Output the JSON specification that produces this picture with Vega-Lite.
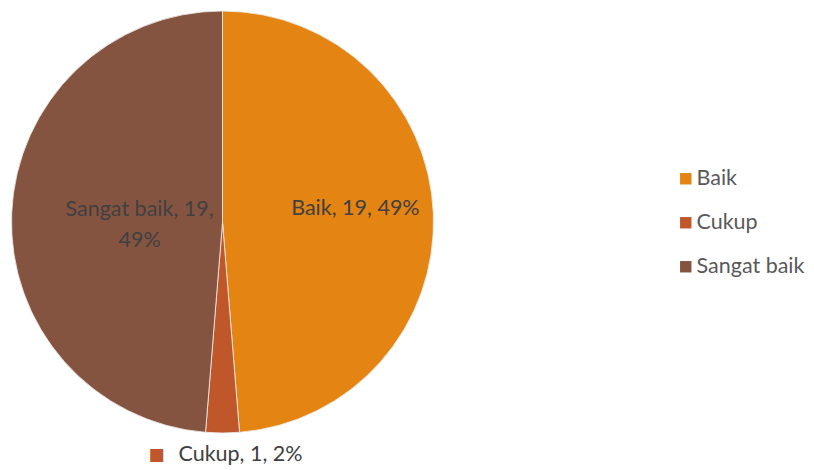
{
  "$schema": "https://vega.github.io/schema/vega-lite/v6.json",
  "width": 445,
  "height": 444,
  "padding": {"left": 0, "top": 0, "right": 369, "bottom": 26},
  "autosize": {"type": "none"},
  "background": "white",
  "config": {"view": {"stroke": null}},
  "data": {
    "values": [
      {"kategori": "Baik", "jumlah": 19, "label": "Baik, 19, 49%"},
      {"kategori": "Cukup", "jumlah": 1, "label": "Cukup, 1, 2%"},
      {"kategori": "Sangat baik", "jumlah": 19, "label": "Sangat baik, 19,\n49%"}
    ]
  },
  "encoding": {
    "theta": {"field": "jumlah", "type": "quantitative", "stack": true}
  },
  "layer": [
    {
      "mark": {"type": "arc", "radius": 211, "stroke": "#f0f0f0", "strokeWidth": 0.8},
      "encoding": {
        "color": {
          "field": "kategori",
          "type": "nominal",
          "scale": {"domain": ["Baik", "Cukup", "Sangat baik"], "range": ["#E48413", "#C0572B", "#855440"]},
          "legend": {
            "title": null,
            "orient": "none",
            "legendX": 675,
            "legendY": 168,
            "symbolType": "square",
            "symbolSize": 130,
            "symbolStrokeWidth": 0,
            "labelFont": "Lato",
            "labelFontSize": 21.5,
            "labelColor": "#595959",
            "labelOffset": 0,
            "rowPadding": 21
          }
        }
      }
    },
    {
      "mark": {"type": "text", "radius": 133, "dy": -8, "font": "Lato", "fontSize": 21.5, "fill": "#404040"},
      "encoding": {
        "detail": {"field": "kategori"},
        "text": {"condition": {"test": "datum.kategori === 'Baik'", "field": "label"}, "value": ""}
      }
    },
    {
      "mark": {"type": "text", "radius": 83, "dy": -9, "font": "Lato", "fontSize": 21.5, "fill": "#404040", "lineBreak": "\n", "lineHeight": 31},
      "encoding": {
        "detail": {"field": "kategori"},
        "text": {"condition": {"test": "datum.kategori === 'Sangat baik'", "field": "label"}, "value": ""}
      }
    },
    {
      "mark": {"type": "text", "radius": 233, "dx": 18, "font": "Lato", "fontSize": 21.5, "fill": "#404040"},
      "encoding": {
        "detail": {"field": "kategori"},
        "text": {"condition": {"test": "datum.kategori === 'Cukup'", "field": "label"}, "value": ""}
      }
    },
    {
      "mark": {"type": "text", "radius": 233, "dx": -66, "font": "DejaVu Sans", "fontSize": 17, "fill": "#C0572B"},
      "encoding": {
        "detail": {"field": "kategori"},
        "text": {"condition": {"test": "datum.kategori === 'Cukup'", "value": "■"}, "value": ""}
      }
    }
  ]
}
